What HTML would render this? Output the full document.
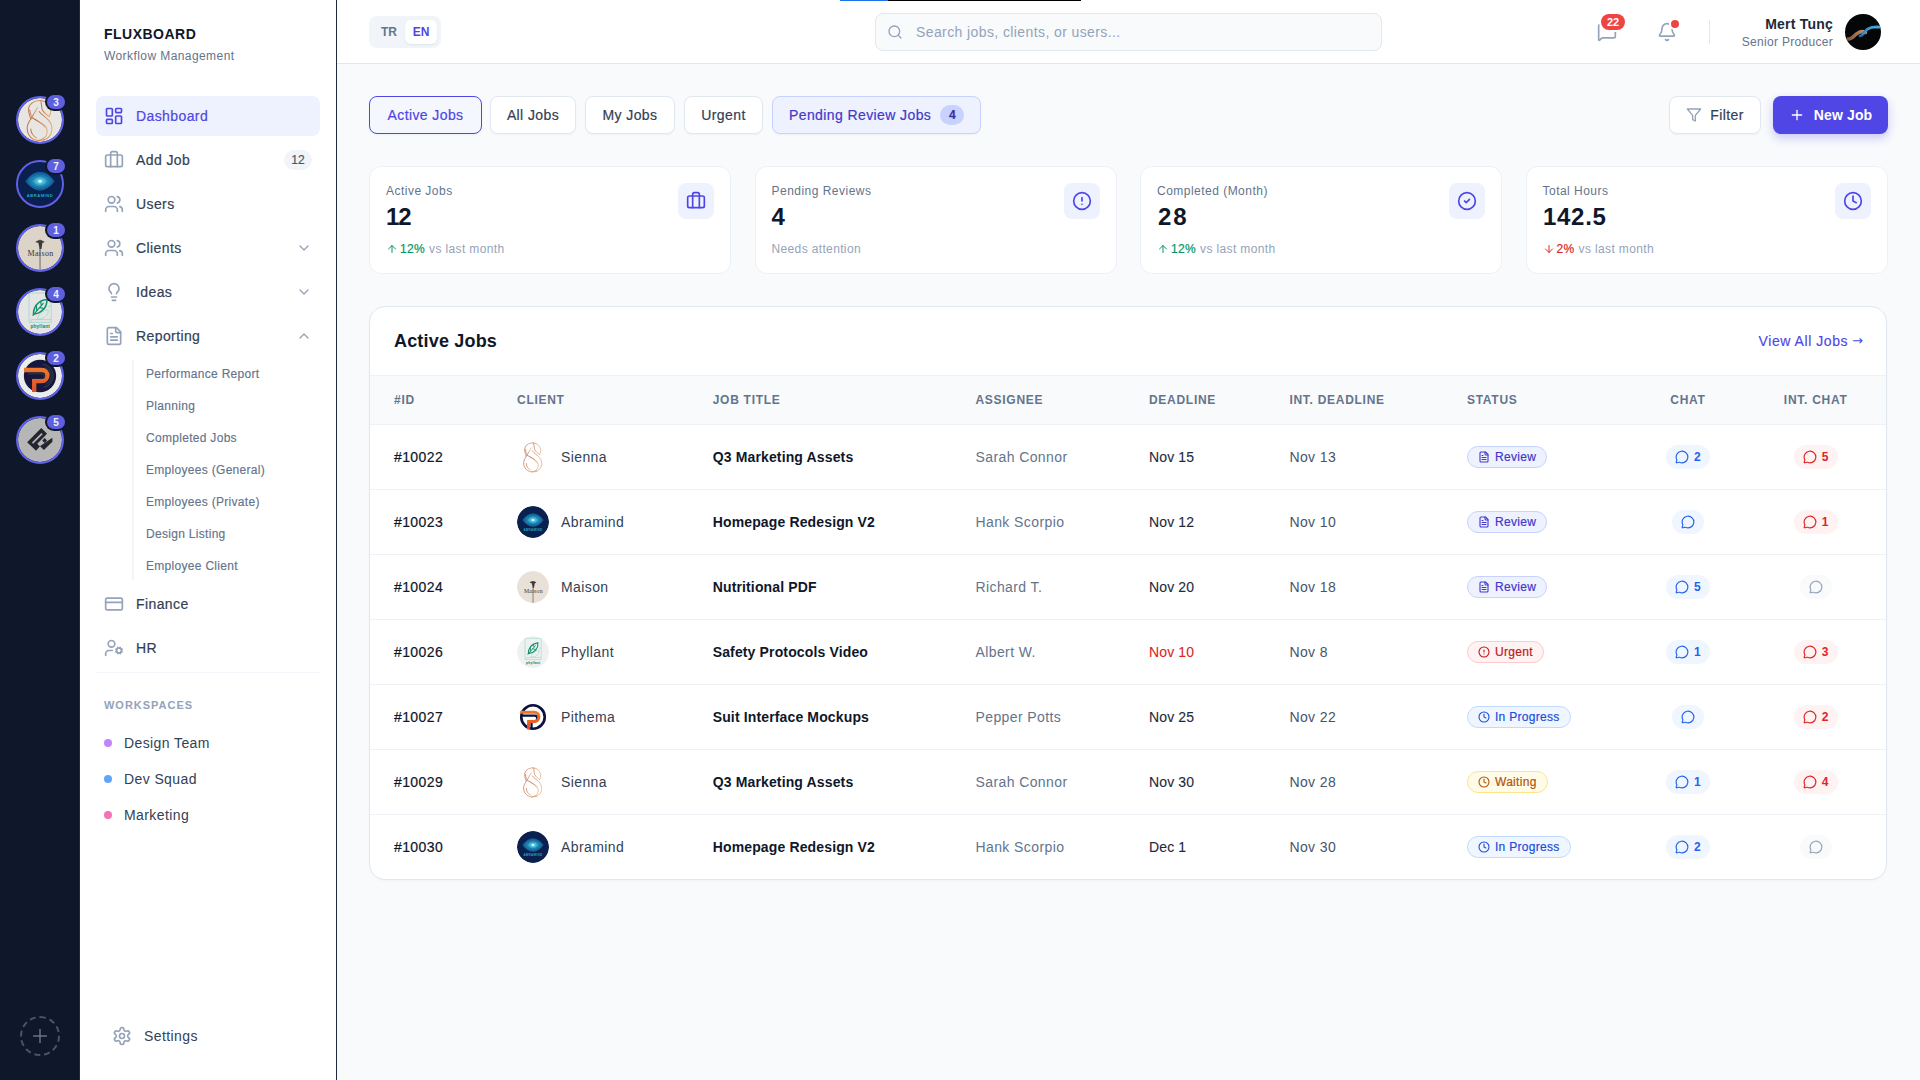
<!DOCTYPE html>
<html><head><meta charset="utf-8"><title>Fluxboard</title>
<style>
*{box-sizing:border-box;margin:0;padding:0}
.md,.nav,.tab,.pill{-webkit-text-stroke:0.2px currentColor}
html,body{width:1920px;height:1080px;overflow:hidden;background:#f8fafc;font-family:"Liberation Sans",Arial,sans-serif;color:#334155;letter-spacing:0.025em}
.abs{position:absolute}
svg{display:block}
#rail{position:absolute;left:0;top:0;width:80px;height:1080px;background:#0f172a;border-right:1px solid #1e293b}
.cav{position:absolute;left:16px;width:48px;height:48px;border-radius:50%;}
.cav .ring{position:absolute;left:0;top:0;width:48px;height:48px;border-radius:50%;border:2px solid #5f62e8;}
.cav .b{position:absolute;left:31px;top:-1px;min-width:18px;height:14px;padding:0 4px;border-radius:7px;background:#5d5fe0;color:#f1f1f6;font-size:10px;font-weight:700;line-height:16px;text-align:center;box-shadow:0 0 0 2px #0f172a;letter-spacing:0}
#side{position:absolute;left:80px;top:0;width:257px;height:1080px;background:#fff;border-right:1px solid #1e293b}
.nav{position:absolute;left:16px;width:224px;height:40px;border-radius:8px;display:flex;align-items:center;padding-left:8px;color:#334155;font-size:14px}
.nav svg{margin-right:12px;color:#94a3b8;flex:none}
.nav.act{background:#eef2ff;color:#4f46e5}
.nav.act svg{color:#4f46e5}
.nav .chev{position:absolute;left:200px;top:12px;color:#94a3b8}
.sub{position:absolute;left:66px;font-size:12px;color:#64748b;height:20px;line-height:20px;letter-spacing:0.025em;-webkit-text-stroke:0.15px currentColor}
.ws{position:absolute;left:24px;display:flex;align-items:center;font-size:14px;color:#334155;height:20px}
.ws i{display:block;width:8px;height:8px;border-radius:50%;margin-right:12px}
#hdr{position:absolute;left:337px;top:0;width:1583px;height:64px;background:#fff;border-bottom:1px solid #e2e8f0}
.tab{position:absolute;top:96px;height:38px;border:1px solid #e2e8f0;border-radius:8px;background:#fff;font-size:14px;color:#334155;display:flex;align-items:center;justify-content:center;box-shadow:0 1px 2px rgba(15,23,42,0.04)}
.card{position:absolute;top:166px;width:362px;height:108px;background:#fff;border:1px solid #edf1f7;border-radius:12px}
.card .lb{position:absolute;left:16px;top:14px;font-size:12px;color:#64748b;line-height:20px;letter-spacing:0.04em}
.card .val{position:absolute;left:16px;top:34px;font-size:24px;font-weight:700;color:#0f172a;line-height:32px;letter-spacing:0}
.card .tr{position:absolute;left:16px;top:72px;font-size:12px;line-height:20px;display:flex;align-items:center;color:#94a3b8;letter-spacing:0.03em}
.card .ib{position:absolute;right:16px;top:16px;width:36px;height:36px;border-radius:8px;background:#eef2ff;display:flex;align-items:center;justify-content:center;color:#4f46e5}
#tbl{position:absolute;left:369px;top:306px;width:1518px;height:574px;background:#fff;border:1px solid #e2e8f0;border-radius:16px;overflow:hidden;box-shadow:0 1px 2px rgba(15,23,42,0.03)}
.row{position:absolute;left:0;width:1516px;height:65px;border-top:1px solid #eef2f6;display:grid;grid-template-columns:123px 195.7px 262.8px 173.5px 140.4px 177.6px 187.6px 114.8px 140.6px;align-items:center}
.row>div{padding-left:24px;white-space:nowrap;font-size:14px}
.row>div.c{padding-left:0;display:flex;justify-content:center}
.th{background:#f8fafc;height:49px;border-top:1px solid #eef2f6}
.th>div{font-size:12px;font-weight:700;color:#64748b;letter-spacing:0.06em}
.cl{display:flex;align-items:center}
.cl svg{margin-right:12px;border-radius:50%}
.pill{display:inline-flex;align-items:center;height:22px;border-radius:11px;padding:0 10px 0 10px;font-size:12px;border:1px solid;letter-spacing:0.025em}
.pill svg{margin-right:5px}
.cp{display:inline-flex;align-items:center;height:24px;border-radius:12px;padding:0 9px;font-size:12px;font-weight:700;letter-spacing:0}
.cp svg{flex:none}
.cp span{margin-left:5px}
</style></head><body>

<div id="rail">
<div class="cav" style="top:96px;background:#0f172a"><div style="position:absolute;left:2px;top:2px"><svg width="44" height="44" viewBox="0 0 48 48"><defs><linearGradient id="sgsienna44" x1="0" x2="1" y1="0" y2="0"><stop offset="0" stop-color="#c06e4e"/><stop offset="1" stop-color="#e0b07c"/></linearGradient></defs>
<circle cx="24" cy="24" r="24" fill="#e8e6e3"/>
<g fill="none" stroke="url(#sgsienna44)" stroke-width="1.1" stroke-linecap="round" stroke-linejoin="round">
<path d="M24 2.8C17 2.6 11.5 7 11.5 12.8C11.5 17 13 20 14 22.8C12 26 10 29 10 32.8C10 36.5 10.8 38.5 12 40.3C14 43.8 18 46 22 46.4C25 46.7 27 46.2 29 45.3"/>
<path d="M12.8 13C13 17 14.5 19.5 16 21.8"/>
<path d="M24 2.8C29 3 34 6 35.5 12.8C36 16 35 19 34 20.3"/>
<path d="M25 4.3C26 8 25.8 11 26.5 12.8C28 16 31 18 34 20.3"/>
<path d="M16 21.8C21 25 27 27 30 31C33 35 32 40 29.5 42.8C27 45 24 46.4 22 46.4"/>
<path d="M23 14.8C26 19 31 21 34 25C37 29 38 34 36 39C34 43 31 45 28 46"/>
<path d="M21.5 10.3C19 14 17 18 14 22.8"/>
<path d="M14 33.8C14 38 16 41 20.5 43.8"/>
<path d="M19 23.5C23 26.5 27.5 28.5 29.5 32"/>
</g></svg></div><div class="ring"></div><div class="b">3</div></div>
<div class="cav" style="top:160px;background:#0f172a"><div style="position:absolute;left:2px;top:2px"><svg width="44" height="44" viewBox="0 0 48 48"><defs><radialGradient id="agabramind44" cx="50%" cy="50%" r="50%">
<stop offset="0" stop-color="#d8ffff"/><stop offset="0.18" stop-color="#5fd6ea"/><stop offset="0.5" stop-color="#2394c2"/><stop offset="0.85" stop-color="#176aa6"/><stop offset="1" stop-color="#12548f"/></radialGradient></defs>
<circle cx="24" cy="24" r="24" fill="#0a2150"/>
<path d="M8 21Q24 0.5 40 21Q24 41.5 8 21Z" fill="url(#agabramind44)" opacity="0.95"/>
<path d="M10.5 21Q24 4.5 37.5 21Q24 37.5 10.5 21Z" fill="none" stroke="#0a2150" stroke-width="0.5" stroke-dasharray="0.8 0.8" opacity="0.8"/>
<path d="M14 21Q24 9 34 21Q24 33 14 21Z" fill="none" stroke="#0a2150" stroke-width="0.45" stroke-dasharray="0.7 0.9" opacity="0.7"/>
<circle cx="24" cy="21" r="1.6" fill="#f0ffff" opacity="0.85"/>
<text x="24" y="37.8" text-anchor="middle" font-family="Liberation Sans" font-weight="700" font-size="4.4" fill="#2fb6c8" letter-spacing="0.6" opacity="0.9">ABRAMIND</text></svg></div><div class="ring"></div><div class="b">7</div></div>
<div class="cav" style="top:224px;background:#0f172a"><div style="position:absolute;left:2px;top:2px"><svg width="44" height="44" viewBox="0 0 48 48"><circle cx="24" cy="24" r="24" fill="#ddd4c9"/>
<rect x="23.3" y="24" width="1.5" height="24" fill="#8a8580"/>
<path d="M19 17.8C19.5 15.3 28.5 15.3 29 17.8L26.6 18.3L25.6 25H23.6L22.2 18.3Z" fill="#3c3a38"/>
<ellipse cx="24" cy="15.8" rx="2.4" ry="0.9" fill="#55524f"/>
<text x="24.6" y="32.4" text-anchor="middle" font-family="Liberation Serif" font-size="9.4" fill="#3a3633" textLength="28.4" lengthAdjust="spacingAndGlyphs">Maison</text></svg></div><div class="ring"></div><div class="b">1</div></div>
<div class="cav" style="top:288px;background:#0f172a"><div style="position:absolute;left:2px;top:2px"><svg width="44" height="44" viewBox="0 0 48 48"><circle cx="24" cy="24" r="24" fill="#e4e5e4"/>
<g fill="none" stroke="#a6dccb" stroke-width="1">
<rect x="12" y="3.3" width="24.2" height="32"/>
<path d="M14.3 35.3V32.2H36"/><path d="M32.6 18.2H36"/>
<path d="M21 32C22.5 26 27 22 33 21.5C33.5 27.5 29 31.5 21 32Z"/></g>
<path d="M17 26.5C16.5 19 22 11 31.5 10.3C32 18.5 26 25.5 17 26.5Z" fill="none" stroke="#13906d" stroke-width="1.7" stroke-linejoin="round"/>
<path d="M16.3 27.6L27.5 14.5M20.5 22.5L20 16.5M23.5 19L28.5 20.5M25.5 16.5L24.5 12.5" stroke="#13906d" stroke-width="1.3" stroke-linecap="round"/>
<text x="24.3" y="41.6" text-anchor="middle" font-family="Liberation Sans" font-weight="700" font-size="6.6" fill="#11805f" textLength="21.5" lengthAdjust="spacingAndGlyphs">phyllant</text></svg></div><div class="ring"></div><div class="b">4</div></div>
<div class="cav" style="top:352px;background:#0f172a"><div style="position:absolute;left:2px;top:2px"><svg width="44" height="44" viewBox="0 0 48 48"><defs><linearGradient id="pgpithema44" x1="0" x2="0" y1="0" y2="1"><stop offset="0" stop-color="#ea7a2c"/><stop offset="1" stop-color="#e04e2a"/></linearGradient></defs>
<circle cx="24" cy="24" r="24" fill="#ececec"/>
<circle cx="24" cy="24" r="17.6" fill="#17173d"/>
<g fill="none" stroke="#2a3142" stroke-width="1.6"><path d="M27 11.5A12.5 12.5 0 0 1 28 36.3"/><path d="M29 14.8A9.5 9.5 0 0 1 30 33"/></g>
<path d="M11 21.5H26.5A3.2 3.2 0 0 1 26.5 27.5H15.8" fill="none" stroke="#243040" stroke-width="1.6"/>
<path d="M6.6 15H26A8.5 8.5 0 0 1 26 32H20V41.4H15.3V27.4H26A3.75 3.75 0 0 0 26 19.9H6.6Z" fill="url(#pgpithema44)"/></svg></div><div class="ring"></div><div class="b">2</div></div>
<div class="cav" style="top:416px;background:#0f172a"><div style="position:absolute;left:2px;top:2px"><svg width="44" height="44" viewBox="0 0 48 48"><circle cx="24" cy="24" r="24" fill="#b6b6b6"/>
<path d="M10 26.4L25.4 11L31.7 17.3L21 28L23.8 30.8L37.5 21.6V25.9L28.3 35L24 30.7L19.7 35.6Z" fill="#23262f"/>
<path d="M15.2 26.7L25.6 16.3L26.9 17.6L16.5 28Z" fill="#b6b6b6"/>
<path d="M26.4 24.6L29.1 21.9L31.7 24.5L29 27.2Z" fill="#23262f"/>
<path d="M21.6 28.6L25.9 24.3L26.5 24.9L22.2 29.2Z" fill="#b6b6b6"/></svg></div><div class="ring"></div><div class="b">5</div></div>
<div class="abs" style="left:20px;top:1016px;width:40px;height:40px;border-radius:50%;border:2px dashed #475569;display:flex;align-items:center;justify-content:center"><svg width="22" height="22" viewBox="0 0 24 24" fill="none" stroke="#64748b" stroke-width="1.6" stroke-linecap="round" stroke-linejoin="round" ><path d="M5 12h14"/><path d="M12 5v14"/></svg></div>
</div>
<div id="side">
<div class="abs" style="left:24px;top:24px;font-size:14px;font-weight:700;color:#0f172a;letter-spacing:0.035em;line-height:20px">FLUXBOARD</div>
<div class="abs" style="left:24px;top:46px;font-size:12px;color:#64748b;letter-spacing:0.035em;line-height:20px">Workflow Management</div>
<div class="nav act" style="top:96px"><svg width="20" height="20" viewBox="0 0 24 24" fill="none" stroke="currentColor" stroke-width="2" stroke-linecap="round" stroke-linejoin="round" ><rect x="3" y="3" width="7" height="9" rx="1"/><rect x="14" y="3" width="7" height="5" rx="1"/><rect x="14" y="12" width="7" height="9" rx="1"/><rect x="3" y="16" width="7" height="5" rx="1"/></svg><span>Dashboard</span></div>
<div class="nav " style="top:140px"><svg width="20" height="20" viewBox="0 0 24 24" fill="none" stroke="currentColor" stroke-width="2" stroke-linecap="round" stroke-linejoin="round" ><path d="M16 20V4a2 2 0 0 0-2-2h-4a2 2 0 0 0-2 2v16"/><rect x="2" y="6" width="20" height="14" rx="2"/></svg><span>Add Job</span><div class="abs" style="left:188px;top:10px;width:28px;height:20px;border-radius:10px;background:#f1f5f9;font-size:12px;line-height:20px;text-align:center;color:#475569;letter-spacing:0">12</div></div>
<div class="nav " style="top:184px"><svg width="20" height="20" viewBox="0 0 24 24" fill="none" stroke="currentColor" stroke-width="2" stroke-linecap="round" stroke-linejoin="round" ><path d="M16 21v-2a4 4 0 0 0-4-4H6a4 4 0 0 0-4 4v2"/><circle cx="9" cy="7" r="4"/><path d="M22 21v-2a4 4 0 0 0-3-3.87"/><path d="M16 3.13a4 4 0 0 1 0 7.75"/></svg><span>Users</span></div>
<div class="nav " style="top:228px"><svg width="20" height="20" viewBox="0 0 24 24" fill="none" stroke="currentColor" stroke-width="2" stroke-linecap="round" stroke-linejoin="round" ><path d="M16 21v-2a4 4 0 0 0-4-4H6a4 4 0 0 0-4 4v2"/><circle cx="9" cy="7" r="4"/><path d="M22 21v-2a4 4 0 0 0-3-3.87"/><path d="M16 3.13a4 4 0 0 1 0 7.75"/></svg><span>Clients</span><div class="chev"><svg width="16" height="16" viewBox="0 0 24 24" fill="none" stroke="currentColor" stroke-width="2" stroke-linecap="round" stroke-linejoin="round" ><path d="m6 9 6 6 6-6"/></svg></div></div>
<div class="nav " style="top:272px"><svg width="20" height="20" viewBox="0 0 24 24" fill="none" stroke="currentColor" stroke-width="2" stroke-linecap="round" stroke-linejoin="round" ><path d="M15 14c.2-1 .7-1.7 1.5-2.5 1-.9 1.5-2.2 1.5-3.5A6 6 0 0 0 6 8c0 1 .2 2.2 1.5 3.5.7.7 1.3 1.5 1.5 2.5"/><path d="M9 18h6"/><path d="M10 22h4"/></svg><span>Ideas</span><div class="chev"><svg width="16" height="16" viewBox="0 0 24 24" fill="none" stroke="currentColor" stroke-width="2" stroke-linecap="round" stroke-linejoin="round" ><path d="m6 9 6 6 6-6"/></svg></div></div>
<div class="nav " style="top:316px"><svg width="20" height="20" viewBox="0 0 24 24" fill="none" stroke="currentColor" stroke-width="2" stroke-linecap="round" stroke-linejoin="round" ><path d="M15 2H6a2 2 0 0 0-2 2v16a2 2 0 0 0 2 2h12a2 2 0 0 0 2-2V7Z"/><path d="M14 2v4a2 2 0 0 0 2 2h4"/><path d="M10 9H8"/><path d="M16 13H8"/><path d="M16 17H8"/></svg><span>Reporting</span><div class="chev"><svg width="16" height="16" viewBox="0 0 24 24" fill="none" stroke="currentColor" stroke-width="2" stroke-linecap="round" stroke-linejoin="round" ><path d="m18 15-6-6-6 6"/></svg></div></div>
<div class="nav " style="top:584px"><svg width="20" height="20" viewBox="0 0 24 24" fill="none" stroke="currentColor" stroke-width="2" stroke-linecap="round" stroke-linejoin="round" ><rect x="2" y="5" width="20" height="14" rx="2"/><line x1="2" x2="22" y1="10" y2="10"/></svg><span>Finance</span></div>
<div class="nav " style="top:628px"><svg width="20" height="20" viewBox="0 0 24 24" fill="none" stroke="currentColor" stroke-width="2" stroke-linecap="round" stroke-linejoin="round" ><circle cx="18" cy="15" r="3"/><circle cx="9" cy="7" r="4"/><path d="M10 15H6a4 4 0 0 0-4 4v2"/><path d="m21.7 16.4-.9-.3"/><path d="m15.2 13.9-.9-.3"/><path d="m16.6 18.7.3-.9"/><path d="m19.1 12.2.3-.9"/><path d="m19.6 18.7-.4-1"/><path d="m16.8 12.3-.4-1"/><path d="m14.3 16.6 1-.4"/><path d="m20.7 13.8 1-.4"/></svg><span>HR</span></div>
<div class="abs" style="left:52px;top:360px;width:2px;height:220px;background:#f1f5f9"></div>
<div class="sub" style="top:364px">Performance Report</div>
<div class="sub" style="top:396px">Planning</div>
<div class="sub" style="top:428px">Completed Jobs</div>
<div class="sub" style="top:460px">Employees (General)</div>
<div class="sub" style="top:492px">Employees (Private)</div>
<div class="sub" style="top:524px">Design Listing</div>
<div class="sub" style="top:556px">Employee Client</div>
<div class="abs" style="left:16px;top:672px;width:224px;height:1px;background:#f1f5f9"></div>
<div class="abs" style="left:24px;top:695px;font-size:11px;font-weight:700;color:#94a3b8;letter-spacing:0.09em;line-height:20px">WORKSPACES</div>
<div class="ws" style="top:733px"><i style="background:#c084fc"></i>Design Team</div>
<div class="ws" style="top:769px"><i style="background:#60a5fa"></i>Dev Squad</div>
<div class="ws" style="top:805px"><i style="background:#f472b6"></i>Marketing</div>
<div class="abs" style="left:32px;top:1026px;display:flex;align-items:center;height:20px;font-size:14px;color:#334155;letter-spacing:0.03em"><svg width="20" height="20" viewBox="0 0 24 24" fill="none" stroke="#94a3b8" stroke-width="2" stroke-linecap="round" stroke-linejoin="round" style="margin-right:12px"><path d="M12.22 2h-.44a2 2 0 0 0-2 2v.18a2 2 0 0 1-1 1.73l-.43.25a2 2 0 0 1-2 0l-.15-.08a2 2 0 0 0-2.73.73l-.22.38a2 2 0 0 0 .73 2.73l.15.1a2 2 0 0 1 1 1.72v.51a2 2 0 0 1-1 1.74l-.15.09a2 2 0 0 0-.73 2.73l.22.38a2 2 0 0 0 2.73.73l.15-.08a2 2 0 0 1 2 0l.43.25a2 2 0 0 1 1 1.73V20a2 2 0 0 0 2 2h.44a2 2 0 0 0 2-2v-.18a2 2 0 0 1 1-1.73l.43-.25a2 2 0 0 1 2 0l.15.08a2 2 0 0 0 2.73-.73l.22-.39a2 2 0 0 0-.73-2.73l-.15-.08a2 2 0 0 1-1-1.74v-.5a2 2 0 0 1 1-1.74l.15-.09a2 2 0 0 0 .73-2.73l-.22-.38a2 2 0 0 0-2.73-.73l-.15.08a2 2 0 0 1-2 0l-.43-.25a2 2 0 0 1-1-1.73V4a2 2 0 0 0-2-2z"/><circle cx="12" cy="12" r="3"/></svg>Settings</div>
</div>
<div id="hdr">
<div class="abs" style="left:32px;top:16px;width:72px;height:32px;border-radius:8px;background:#f1f5f9"></div>
<div class="abs" style="left:36px;top:20px;width:32px;height:24px;font-size:12px;font-weight:700;color:#64748b;line-height:24px;text-align:center;letter-spacing:0">TR</div>
<div class="abs" style="left:68px;top:20px;width:32px;height:24px;border-radius:6px;background:#fff;box-shadow:0 1px 2px rgba(15,23,42,0.08);font-size:12px;font-weight:700;color:#4f46e5;line-height:24px;text-align:center;letter-spacing:0">EN</div>
<div class="abs" style="left:538px;top:13px;width:507px;height:38px;border-radius:8px;background:#f8fafc;border:1px solid #e2e8f0"></div>
<div class="abs" style="left:550px;top:24px"><svg width="16" height="16" viewBox="0 0 24 24" fill="none" stroke="#94a3b8" stroke-width="2" stroke-linecap="round" stroke-linejoin="round" ><circle cx="11" cy="11" r="8"/><path d="m21 21-4.3-4.3"/></svg></div>
<div class="abs" style="left:579px;top:22px;font-size:14px;line-height:20px;color:#94a3b8">Search jobs, clients, or users...</div>
<div class="abs" style="left:1260px;top:22px"><svg width="20" height="20" viewBox="0 0 24 24" fill="none" stroke="#94a3b8" stroke-width="2" stroke-linecap="round" stroke-linejoin="round" ><path d="M22 17a2 2 0 0 1-2 2H6.828a2 2 0 0 0-1.414.586l-2.202 2.202A.71.71 0 0 1 2 21.286V5a2 2 0 0 1 2-2h16a2 2 0 0 1 2 2z"/></svg></div>
<div class="abs" style="left:1264px;top:14px;width:24px;height:16px;border-radius:8px;background:#ef4444;color:#fff;font-size:11px;font-weight:700;line-height:17px;text-align:center;letter-spacing:0;box-shadow:0 0 0 2px #fff">22</div>
<div class="abs" style="left:1320px;top:22px"><svg width="20" height="20" viewBox="0 0 24 24" fill="none" stroke="#94a3b8" stroke-width="2" stroke-linecap="round" stroke-linejoin="round" ><path d="M10.268 21a2 2 0 0 0 3.464 0"/><path d="M3.262 15.326A1 1 0 0 0 4 17h16a1 1 0 0 0 .74-1.673C19.41 13.956 18 12.499 18 8A6 6 0 0 0 6 8c0 4.499-1.411 5.956-2.738 7.326"/></svg></div>
<div class="abs" style="left:1334px;top:20px;width:8px;height:8px;border-radius:50%;background:#ef4444;box-shadow:0 0 0 2px #fff"></div>
<div class="abs" style="left:1372px;top:20px;width:1px;height:24px;background:#e2e8f0"></div>
<div class="abs" style="left:1380px;top:15px;width:116px;text-align:right;font-size:14px;font-weight:700;color:#1e293b;line-height:18px;letter-spacing:0.015em">Mert Tunç</div>
<div class="abs" style="left:1380px;top:34px;width:116px;text-align:right;font-size:12px;color:#64748b;line-height:16px;letter-spacing:0.025em">Senior Producer</div>
<div class="abs" style="left:1508px;top:14px;width:36px;height:36px;border-radius:50%;overflow:hidden;background:#050608">
<svg width="36" height="36" viewBox="0 0 36 36"><defs><linearGradient id="sw1" x1="0" x2="1"><stop offset="0" stop-color="#8a5a3a"/><stop offset="1" stop-color="#d49a6a"/></linearGradient>
<linearGradient id="sw2" x1="0" x2="1"><stop offset="0" stop-color="#1d6fb8"/><stop offset="1" stop-color="#3fb8e8"/></linearGradient></defs>
<path d="M3 25C7 25.5 9 21.5 12 19.5C15 17.3 18 17 20.5 18.5" fill="none" stroke="url(#sw1)" stroke-width="3.4" stroke-linecap="round" opacity="0.95"/>
<path d="M15 21.8C18.5 21.5 20 16.5 23 14.8C26 13.2 30 12.6 35 13.2" fill="none" stroke="url(#sw2)" stroke-width="2.8" stroke-linecap="round" opacity="0.95"/>
<path d="M17 20.5C20 19 22 15.5 25 14.2C28 13 31 13.5 33 14.5" fill="none" stroke="#8fe0ff" stroke-width="0.6" opacity="0.6"/></svg></div>
</div>
<div class="abs" style="left:840px;top:0;width:48px;height:1px;background:#1a73e8"></div>
<div class="abs" style="left:888px;top:0;width:193px;height:1px;background:#000"></div>
<div class="tab" style="left:369px;width:113px;border-color:#4f46e5;background:#f5f7ff;color:#4f46e5">Active Jobs</div>
<div class="tab" style="left:490px;width:86px">All Jobs</div>
<div class="tab" style="left:585px;width:90px">My Jobs</div>
<div class="tab" style="left:684px;width:79px">Urgent</div>
<div class="tab" style="left:772px;width:209px;border-color:#c7d2fe;background:#eef2ff;color:#4338ca;justify-content:flex-start;padding-left:16px">Pending Review Jobs<span style="margin-left:9px;width:24px;height:20px;border-radius:10px;background:#c7d2fe;color:#3730a3;font-size:12px;font-weight:700;line-height:20px;text-align:center;letter-spacing:0">4</span></div>
<div class="tab" style="left:1669px;width:92px;color:#334155"><svg width="16" height="16" viewBox="0 0 24 24" fill="none" stroke="#94a3b8" stroke-width="2" stroke-linecap="round" stroke-linejoin="round" style="margin-right:8px"><polygon points="22 3 2 3 10 12.46 10 19 14 21 14 12.46 22 3"/></svg>Filter</div>
<div class="tab" style="left:1773px;width:115px;border:none;background:#4f46e5;color:#fff;font-weight:700;letter-spacing:0.01em;-webkit-text-stroke:0;box-shadow:0 4px 10px rgba(79,70,229,0.28)"><svg width="16" height="16" viewBox="0 0 24 24" fill="none" stroke="#fff" stroke-width="2" stroke-linecap="round" stroke-linejoin="round" style="margin-right:9px"><path d="M5 12h14"/><path d="M12 5v14"/></svg>New Job</div>
<div class="card" style="left:369.0px"><div class="lb">Active Jobs</div><div class="val" style="letter-spacing:-1px;margin-left:0">12</div><div class="tr"><svg width="12" height="12" viewBox="0 0 24 24" fill="none" stroke="#059669" stroke-width="2" stroke-linecap="round" stroke-linejoin="round" style="margin-right:2px"><path d="m5 12 7-7 7 7"/><path d="M12 19V5"/></svg><span class="md" style="color:#059669;margin-right:4px">12%</span>vs last month</div><div class="ib"><svg width="20" height="20" viewBox="0 0 24 24" fill="none" stroke="#4f46e5" stroke-width="2" stroke-linecap="round" stroke-linejoin="round" ><path d="M16 20V4a2 2 0 0 0-2-2h-4a2 2 0 0 0-2 2v16"/><rect x="2" y="6" width="20" height="14" rx="2"/></svg></div></div>
<div class="card" style="left:754.5px"><div class="lb">Pending Reviews</div><div class="val" style="letter-spacing:0;margin-left:0">4</div><div class="tr">Needs attention</div><div class="ib"><svg width="20" height="20" viewBox="0 0 24 24" fill="none" stroke="#4f46e5" stroke-width="2" stroke-linecap="round" stroke-linejoin="round" ><circle cx="12" cy="12" r="10"/><line x1="12" x2="12" y1="8" y2="12"/><line x1="12" x2="12.01" y1="16" y2="16"/></svg></div></div>
<div class="card" style="left:1140.0px"><div class="lb">Completed (Month)</div><div class="val" style="letter-spacing:1.8px;margin-left:1px">28</div><div class="tr"><svg width="12" height="12" viewBox="0 0 24 24" fill="none" stroke="#059669" stroke-width="2" stroke-linecap="round" stroke-linejoin="round" style="margin-right:2px"><path d="m5 12 7-7 7 7"/><path d="M12 19V5"/></svg><span class="md" style="color:#059669;margin-right:4px">12%</span>vs last month</div><div class="ib"><svg width="20" height="20" viewBox="0 0 24 24" fill="none" stroke="#4f46e5" stroke-width="2" stroke-linecap="round" stroke-linejoin="round" ><circle cx="12" cy="12" r="10"/><path d="m9 12 2 2 4-4"/></svg></div></div>
<div class="card" style="left:1525.5px"><div class="lb">Total Hours</div><div class="val" style="letter-spacing:0.7px;margin-left:0.5px">142.5</div><div class="tr"><svg width="12" height="12" viewBox="0 0 24 24" fill="none" stroke="#dc2626" stroke-width="2" stroke-linecap="round" stroke-linejoin="round" style="margin-right:2px"><path d="M12 5v14"/><path d="m19 12-7 7-7-7"/></svg><span class="md" style="color:#dc2626;margin-right:4px">2%</span>vs last month</div><div class="ib"><svg width="20" height="20" viewBox="0 0 24 24" fill="none" stroke="#4f46e5" stroke-width="2" stroke-linecap="round" stroke-linejoin="round" ><circle cx="12" cy="12" r="10"/><polyline points="12 6 12 12 16 14"/></svg></div></div>
<div id="tbl">
<div class="abs" style="left:24px;top:20px;font-size:18px;font-weight:700;color:#0f172a;line-height:28px;letter-spacing:0.01em">Active Jobs</div>
<div class="abs" style="right:23px;top:24px;font-size:14px;color:#4f46e5;line-height:20px;display:flex;align-items:center;letter-spacing:0.04em;-webkit-text-stroke:0.15px currentColor">View All Jobs<span style="font-family:'DejaVu Sans',sans-serif;font-size:13px;margin-left:4px;letter-spacing:0;-webkit-text-stroke:0">→</span></div>
<div class="row th" style="top:68px"><div class="">#ID</div><div class="">CLIENT</div><div class="">JOB TITLE</div><div class="">ASSIGNEE</div><div class="">DEADLINE</div><div class="">INT. DEADLINE</div><div class="">STATUS</div><div class="c">CHAT</div><div class="c">INT. CHAT</div></div>
<div class="row" style="top:117px"><div class="md" style="color:#0f172a">#10022</div><div class="cl"><svg width="32" height="32" viewBox="0 0 48 48"><defs><linearGradient id="sgsienna32" x1="0" x2="1" y1="0" y2="0"><stop offset="0" stop-color="#c06e4e"/><stop offset="1" stop-color="#e0b07c"/></linearGradient></defs>
<circle cx="24" cy="24" r="24" fill="#ffffff"/>
<g fill="none" stroke="url(#sgsienna32)" stroke-width="1.1" stroke-linecap="round" stroke-linejoin="round">
<path d="M24 2.8C17 2.6 11.5 7 11.5 12.8C11.5 17 13 20 14 22.8C12 26 10 29 10 32.8C10 36.5 10.8 38.5 12 40.3C14 43.8 18 46 22 46.4C25 46.7 27 46.2 29 45.3"/>
<path d="M12.8 13C13 17 14.5 19.5 16 21.8"/>
<path d="M24 2.8C29 3 34 6 35.5 12.8C36 16 35 19 34 20.3"/>
<path d="M25 4.3C26 8 25.8 11 26.5 12.8C28 16 31 18 34 20.3"/>
<path d="M16 21.8C21 25 27 27 30 31C33 35 32 40 29.5 42.8C27 45 24 46.4 22 46.4"/>
<path d="M23 14.8C26 19 31 21 34 25C37 29 38 34 36 39C34 43 31 45 28 46"/>
<path d="M21.5 10.3C19 14 17 18 14 22.8"/>
<path d="M14 33.8C14 38 16 41 20.5 43.8"/>
<path d="M19 23.5C23 26.5 27.5 28.5 29.5 32"/>
</g></svg><span style="color:#334155">Sienna</span></div><div style="font-weight:700;color:#0f172a;letter-spacing:0.01em">Q3 Marketing Assets</div><div style="color:#64748b">Sarah Connor</div><div style="color:#1e293b;letter-spacing:0.01em;-webkit-text-stroke:0.1px currentColor">Nov 15</div><div style="color:#475569">Nov 13</div><div><span class="pill" style="background:#eef2ff;border-color:#c7d2fe;color:#4338ca"><svg width="12" height="12" viewBox="0 0 24 24" fill="none" stroke="#4338ca" stroke-width="2.2" stroke-linecap="round" stroke-linejoin="round" ><path d="M15 2H6a2 2 0 0 0-2 2v16a2 2 0 0 0 2 2h12a2 2 0 0 0 2-2V7Z"/><path d="M14 2v4a2 2 0 0 0 2 2h4"/><path d="M10 9H8"/><path d="M16 13H8"/><path d="M16 17H8"/></svg>Review</span></div><div class="c"><span class="cp" style="background:#eff6ff;color:#2563eb"><svg width="14" height="14" viewBox="0 0 24 24" fill="none" stroke="#2563eb" stroke-width="2" stroke-linecap="round" stroke-linejoin="round" ><path d="M2.992 16.342a2 2 0 0 1 .094 1.167l-1.065 3.29a1 1 0 0 0 1.236 1.168l3.413-.998a2 2 0 0 1 1.099.092 10 10 0 1 0-4.777-4.719"/></svg><span>2</span></span></div><div class="c"><span class="cp" style="background:#fef2f2;color:#dc2626"><svg width="14" height="14" viewBox="0 0 24 24" fill="none" stroke="#dc2626" stroke-width="2" stroke-linecap="round" stroke-linejoin="round" ><path d="M2.992 16.342a2 2 0 0 1 .094 1.167l-1.065 3.29a1 1 0 0 0 1.236 1.168l3.413-.998a2 2 0 0 1 1.099.092 10 10 0 1 0-4.777-4.719"/></svg><span>5</span></span></div></div>
<div class="row" style="top:182px"><div class="md" style="color:#0f172a">#10023</div><div class="cl"><svg width="32" height="32" viewBox="0 0 48 48"><defs><radialGradient id="agabramind32" cx="50%" cy="50%" r="50%">
<stop offset="0" stop-color="#d8ffff"/><stop offset="0.18" stop-color="#5fd6ea"/><stop offset="0.5" stop-color="#2394c2"/><stop offset="0.85" stop-color="#176aa6"/><stop offset="1" stop-color="#12548f"/></radialGradient></defs>
<circle cx="24" cy="24" r="24" fill="#0a2150"/>
<path d="M8 21Q24 0.5 40 21Q24 41.5 8 21Z" fill="url(#agabramind32)" opacity="0.95"/>
<path d="M10.5 21Q24 4.5 37.5 21Q24 37.5 10.5 21Z" fill="none" stroke="#0a2150" stroke-width="0.5" stroke-dasharray="0.8 0.8" opacity="0.8"/>
<path d="M14 21Q24 9 34 21Q24 33 14 21Z" fill="none" stroke="#0a2150" stroke-width="0.45" stroke-dasharray="0.7 0.9" opacity="0.7"/>
<circle cx="24" cy="21" r="1.6" fill="#f0ffff" opacity="0.85"/>
<text x="24" y="37.8" text-anchor="middle" font-family="Liberation Sans" font-weight="700" font-size="4.4" fill="#2fb6c8" letter-spacing="0.6" opacity="0.9">ABRAMIND</text></svg><span style="color:#334155">Abramind</span></div><div style="font-weight:700;color:#0f172a;letter-spacing:0.01em">Homepage Redesign V2</div><div style="color:#64748b">Hank Scorpio</div><div style="color:#1e293b;letter-spacing:0.01em;-webkit-text-stroke:0.1px currentColor">Nov 12</div><div style="color:#475569">Nov 10</div><div><span class="pill" style="background:#eef2ff;border-color:#c7d2fe;color:#4338ca"><svg width="12" height="12" viewBox="0 0 24 24" fill="none" stroke="#4338ca" stroke-width="2.2" stroke-linecap="round" stroke-linejoin="round" ><path d="M15 2H6a2 2 0 0 0-2 2v16a2 2 0 0 0 2 2h12a2 2 0 0 0 2-2V7Z"/><path d="M14 2v4a2 2 0 0 0 2 2h4"/><path d="M10 9H8"/><path d="M16 13H8"/><path d="M16 17H8"/></svg>Review</span></div><div class="c"><span class="cp" style="background:#eff6ff;color:#2563eb"><svg width="14" height="14" viewBox="0 0 24 24" fill="none" stroke="#2563eb" stroke-width="2" stroke-linecap="round" stroke-linejoin="round" ><path d="M2.992 16.342a2 2 0 0 1 .094 1.167l-1.065 3.29a1 1 0 0 0 1.236 1.168l3.413-.998a2 2 0 0 1 1.099.092 10 10 0 1 0-4.777-4.719"/></svg></span></div><div class="c"><span class="cp" style="background:#fef2f2;color:#dc2626"><svg width="14" height="14" viewBox="0 0 24 24" fill="none" stroke="#dc2626" stroke-width="2" stroke-linecap="round" stroke-linejoin="round" ><path d="M2.992 16.342a2 2 0 0 1 .094 1.167l-1.065 3.29a1 1 0 0 0 1.236 1.168l3.413-.998a2 2 0 0 1 1.099.092 10 10 0 1 0-4.777-4.719"/></svg><span>1</span></span></div></div>
<div class="row" style="top:247px"><div class="md" style="color:#0f172a">#10024</div><div class="cl"><svg width="32" height="32" viewBox="0 0 48 48"><circle cx="24" cy="24" r="24" fill="#e9e1d8"/>
<rect x="23.3" y="24" width="1.5" height="24" fill="#8a8580"/>
<path d="M19 17.8C19.5 15.3 28.5 15.3 29 17.8L26.6 18.3L25.6 25H23.6L22.2 18.3Z" fill="#3c3a38"/>
<ellipse cx="24" cy="15.8" rx="2.4" ry="0.9" fill="#55524f"/>
<text x="24.6" y="32.4" text-anchor="middle" font-family="Liberation Serif" font-size="9.4" fill="#3a3633" textLength="28.4" lengthAdjust="spacingAndGlyphs">Maison</text></svg><span style="color:#334155">Maison</span></div><div style="font-weight:700;color:#0f172a;letter-spacing:0.01em">Nutritional PDF</div><div style="color:#64748b">Richard T.</div><div style="color:#1e293b;letter-spacing:0.01em;-webkit-text-stroke:0.1px currentColor">Nov 20</div><div style="color:#475569">Nov 18</div><div><span class="pill" style="background:#eef2ff;border-color:#c7d2fe;color:#4338ca"><svg width="12" height="12" viewBox="0 0 24 24" fill="none" stroke="#4338ca" stroke-width="2.2" stroke-linecap="round" stroke-linejoin="round" ><path d="M15 2H6a2 2 0 0 0-2 2v16a2 2 0 0 0 2 2h12a2 2 0 0 0 2-2V7Z"/><path d="M14 2v4a2 2 0 0 0 2 2h4"/><path d="M10 9H8"/><path d="M16 13H8"/><path d="M16 17H8"/></svg>Review</span></div><div class="c"><span class="cp" style="background:#eff6ff;color:#2563eb"><svg width="14" height="14" viewBox="0 0 24 24" fill="none" stroke="#2563eb" stroke-width="2" stroke-linecap="round" stroke-linejoin="round" ><path d="M2.992 16.342a2 2 0 0 1 .094 1.167l-1.065 3.29a1 1 0 0 0 1.236 1.168l3.413-.998a2 2 0 0 1 1.099.092 10 10 0 1 0-4.777-4.719"/></svg><span>5</span></span></div><div class="c"><span class="cp" style="background:#f8fafc;color:#94a3b8"><svg width="14" height="14" viewBox="0 0 24 24" fill="none" stroke="#94a3b8" stroke-width="2" stroke-linecap="round" stroke-linejoin="round" ><path d="M2.992 16.342a2 2 0 0 1 .094 1.167l-1.065 3.29a1 1 0 0 0 1.236 1.168l3.413-.998a2 2 0 0 1 1.099.092 10 10 0 1 0-4.777-4.719"/></svg></span></div></div>
<div class="row" style="top:312px"><div class="md" style="color:#0f172a">#10026</div><div class="cl"><svg width="32" height="32" viewBox="0 0 48 48"><circle cx="24" cy="24" r="24" fill="#eef1f0"/>
<g fill="none" stroke="#a6dccb" stroke-width="1">
<rect x="12" y="3.3" width="24.2" height="32"/>
<path d="M14.3 35.3V32.2H36"/><path d="M32.6 18.2H36"/>
<path d="M21 32C22.5 26 27 22 33 21.5C33.5 27.5 29 31.5 21 32Z"/></g>
<path d="M17 26.5C16.5 19 22 11 31.5 10.3C32 18.5 26 25.5 17 26.5Z" fill="none" stroke="#13906d" stroke-width="1.7" stroke-linejoin="round"/>
<path d="M16.3 27.6L27.5 14.5M20.5 22.5L20 16.5M23.5 19L28.5 20.5M25.5 16.5L24.5 12.5" stroke="#13906d" stroke-width="1.3" stroke-linecap="round"/>
<text x="24.3" y="41.6" text-anchor="middle" font-family="Liberation Sans" font-weight="700" font-size="6.6" fill="#11805f" textLength="21.5" lengthAdjust="spacingAndGlyphs">phyllant</text></svg><span style="color:#334155">Phyllant</span></div><div style="font-weight:700;color:#0f172a;letter-spacing:0.01em">Safety Protocols Video</div><div style="color:#64748b">Albert W.</div><div style="color:#dc2626;letter-spacing:0.01em;-webkit-text-stroke:0.1px currentColor">Nov 10</div><div style="color:#475569">Nov 8</div><div><span class="pill" style="background:#fef2f2;border-color:#fecaca;color:#b91c1c"><svg width="12" height="12" viewBox="0 0 24 24" fill="none" stroke="#b91c1c" stroke-width="2.2" stroke-linecap="round" stroke-linejoin="round" ><circle cx="12" cy="12" r="10"/><line x1="12" x2="12" y1="8" y2="12"/><line x1="12" x2="12.01" y1="16" y2="16"/></svg>Urgent</span></div><div class="c"><span class="cp" style="background:#eff6ff;color:#2563eb"><svg width="14" height="14" viewBox="0 0 24 24" fill="none" stroke="#2563eb" stroke-width="2" stroke-linecap="round" stroke-linejoin="round" ><path d="M2.992 16.342a2 2 0 0 1 .094 1.167l-1.065 3.29a1 1 0 0 0 1.236 1.168l3.413-.998a2 2 0 0 1 1.099.092 10 10 0 1 0-4.777-4.719"/></svg><span>1</span></span></div><div class="c"><span class="cp" style="background:#fef2f2;color:#dc2626"><svg width="14" height="14" viewBox="0 0 24 24" fill="none" stroke="#dc2626" stroke-width="2" stroke-linecap="round" stroke-linejoin="round" ><path d="M2.992 16.342a2 2 0 0 1 .094 1.167l-1.065 3.29a1 1 0 0 0 1.236 1.168l3.413-.998a2 2 0 0 1 1.099.092 10 10 0 1 0-4.777-4.719"/></svg><span>3</span></span></div></div>
<div class="row" style="top:377px"><div class="md" style="color:#0f172a">#10027</div><div class="cl"><svg width="32" height="32" viewBox="0 0 48 48"><defs><linearGradient id="ptpithema_t32" x1="0" x2="0" y1="0" y2="1"><stop offset="0" stop-color="#f07a26"/><stop offset="1" stop-color="#ea4f1f"/></linearGradient></defs>
<circle cx="24" cy="24" r="24" fill="#ffffff"/>
<circle cx="24" cy="24" r="17.6" fill="none" stroke="#0d1140" stroke-width="4"/>
<path d="M5.5 21.8H26A4.3 4.3 0 0 1 26.5 30.5H21.8V42" fill="none" stroke="#0d1140" stroke-width="3.4"/>
<path d="M4.8 14.6H26A9.15 9.15 0 0 1 26 32.9H19.6V42.9H15.1V28.4H26A4.55 4.55 0 0 0 26 19.3H4.8Z" fill="url(#ptpithema_t32)"/></svg><span style="color:#334155">Pithema</span></div><div style="font-weight:700;color:#0f172a;letter-spacing:0.01em">Suit Interface Mockups</div><div style="color:#64748b">Pepper Potts</div><div style="color:#1e293b;letter-spacing:0.01em;-webkit-text-stroke:0.1px currentColor">Nov 25</div><div style="color:#475569">Nov 22</div><div><span class="pill" style="background:#eff6ff;border-color:#bfdbfe;color:#1d4ed8"><svg width="12" height="12" viewBox="0 0 24 24" fill="none" stroke="#1d4ed8" stroke-width="2.2" stroke-linecap="round" stroke-linejoin="round" ><circle cx="12" cy="12" r="10"/><polyline points="12 6 12 12 16 14"/></svg>In Progress</span></div><div class="c"><span class="cp" style="background:#eff6ff;color:#2563eb"><svg width="14" height="14" viewBox="0 0 24 24" fill="none" stroke="#2563eb" stroke-width="2" stroke-linecap="round" stroke-linejoin="round" ><path d="M2.992 16.342a2 2 0 0 1 .094 1.167l-1.065 3.29a1 1 0 0 0 1.236 1.168l3.413-.998a2 2 0 0 1 1.099.092 10 10 0 1 0-4.777-4.719"/></svg></span></div><div class="c"><span class="cp" style="background:#fef2f2;color:#dc2626"><svg width="14" height="14" viewBox="0 0 24 24" fill="none" stroke="#dc2626" stroke-width="2" stroke-linecap="round" stroke-linejoin="round" ><path d="M2.992 16.342a2 2 0 0 1 .094 1.167l-1.065 3.29a1 1 0 0 0 1.236 1.168l3.413-.998a2 2 0 0 1 1.099.092 10 10 0 1 0-4.777-4.719"/></svg><span>2</span></span></div></div>
<div class="row" style="top:442px"><div class="md" style="color:#0f172a">#10029</div><div class="cl"><svg width="32" height="32" viewBox="0 0 48 48"><defs><linearGradient id="sgsienna32" x1="0" x2="1" y1="0" y2="0"><stop offset="0" stop-color="#c06e4e"/><stop offset="1" stop-color="#e0b07c"/></linearGradient></defs>
<circle cx="24" cy="24" r="24" fill="#ffffff"/>
<g fill="none" stroke="url(#sgsienna32)" stroke-width="1.1" stroke-linecap="round" stroke-linejoin="round">
<path d="M24 2.8C17 2.6 11.5 7 11.5 12.8C11.5 17 13 20 14 22.8C12 26 10 29 10 32.8C10 36.5 10.8 38.5 12 40.3C14 43.8 18 46 22 46.4C25 46.7 27 46.2 29 45.3"/>
<path d="M12.8 13C13 17 14.5 19.5 16 21.8"/>
<path d="M24 2.8C29 3 34 6 35.5 12.8C36 16 35 19 34 20.3"/>
<path d="M25 4.3C26 8 25.8 11 26.5 12.8C28 16 31 18 34 20.3"/>
<path d="M16 21.8C21 25 27 27 30 31C33 35 32 40 29.5 42.8C27 45 24 46.4 22 46.4"/>
<path d="M23 14.8C26 19 31 21 34 25C37 29 38 34 36 39C34 43 31 45 28 46"/>
<path d="M21.5 10.3C19 14 17 18 14 22.8"/>
<path d="M14 33.8C14 38 16 41 20.5 43.8"/>
<path d="M19 23.5C23 26.5 27.5 28.5 29.5 32"/>
</g></svg><span style="color:#334155">Sienna</span></div><div style="font-weight:700;color:#0f172a;letter-spacing:0.01em">Q3 Marketing Assets</div><div style="color:#64748b">Sarah Connor</div><div style="color:#1e293b;letter-spacing:0.01em;-webkit-text-stroke:0.1px currentColor">Nov 30</div><div style="color:#475569">Nov 28</div><div><span class="pill" style="background:#fefce8;border-color:#fde68a;color:#b45309"><svg width="12" height="12" viewBox="0 0 24 24" fill="none" stroke="#b45309" stroke-width="2.2" stroke-linecap="round" stroke-linejoin="round" ><circle cx="12" cy="12" r="10"/><polyline points="12 6 12 12 16 14"/></svg>Waiting</span></div><div class="c"><span class="cp" style="background:#eff6ff;color:#2563eb"><svg width="14" height="14" viewBox="0 0 24 24" fill="none" stroke="#2563eb" stroke-width="2" stroke-linecap="round" stroke-linejoin="round" ><path d="M2.992 16.342a2 2 0 0 1 .094 1.167l-1.065 3.29a1 1 0 0 0 1.236 1.168l3.413-.998a2 2 0 0 1 1.099.092 10 10 0 1 0-4.777-4.719"/></svg><span>1</span></span></div><div class="c"><span class="cp" style="background:#fef2f2;color:#dc2626"><svg width="14" height="14" viewBox="0 0 24 24" fill="none" stroke="#dc2626" stroke-width="2" stroke-linecap="round" stroke-linejoin="round" ><path d="M2.992 16.342a2 2 0 0 1 .094 1.167l-1.065 3.29a1 1 0 0 0 1.236 1.168l3.413-.998a2 2 0 0 1 1.099.092 10 10 0 1 0-4.777-4.719"/></svg><span>4</span></span></div></div>
<div class="row" style="top:507px"><div class="md" style="color:#0f172a">#10030</div><div class="cl"><svg width="32" height="32" viewBox="0 0 48 48"><defs><radialGradient id="agabramind32" cx="50%" cy="50%" r="50%">
<stop offset="0" stop-color="#d8ffff"/><stop offset="0.18" stop-color="#5fd6ea"/><stop offset="0.5" stop-color="#2394c2"/><stop offset="0.85" stop-color="#176aa6"/><stop offset="1" stop-color="#12548f"/></radialGradient></defs>
<circle cx="24" cy="24" r="24" fill="#0a2150"/>
<path d="M8 21Q24 0.5 40 21Q24 41.5 8 21Z" fill="url(#agabramind32)" opacity="0.95"/>
<path d="M10.5 21Q24 4.5 37.5 21Q24 37.5 10.5 21Z" fill="none" stroke="#0a2150" stroke-width="0.5" stroke-dasharray="0.8 0.8" opacity="0.8"/>
<path d="M14 21Q24 9 34 21Q24 33 14 21Z" fill="none" stroke="#0a2150" stroke-width="0.45" stroke-dasharray="0.7 0.9" opacity="0.7"/>
<circle cx="24" cy="21" r="1.6" fill="#f0ffff" opacity="0.85"/>
<text x="24" y="37.8" text-anchor="middle" font-family="Liberation Sans" font-weight="700" font-size="4.4" fill="#2fb6c8" letter-spacing="0.6" opacity="0.9">ABRAMIND</text></svg><span style="color:#334155">Abramind</span></div><div style="font-weight:700;color:#0f172a;letter-spacing:0.01em">Homepage Redesign V2</div><div style="color:#64748b">Hank Scorpio</div><div style="color:#1e293b;letter-spacing:0.01em;-webkit-text-stroke:0.1px currentColor">Dec 1</div><div style="color:#475569">Nov 30</div><div><span class="pill" style="background:#eff6ff;border-color:#bfdbfe;color:#1d4ed8"><svg width="12" height="12" viewBox="0 0 24 24" fill="none" stroke="#1d4ed8" stroke-width="2.2" stroke-linecap="round" stroke-linejoin="round" ><circle cx="12" cy="12" r="10"/><polyline points="12 6 12 12 16 14"/></svg>In Progress</span></div><div class="c"><span class="cp" style="background:#eff6ff;color:#2563eb"><svg width="14" height="14" viewBox="0 0 24 24" fill="none" stroke="#2563eb" stroke-width="2" stroke-linecap="round" stroke-linejoin="round" ><path d="M2.992 16.342a2 2 0 0 1 .094 1.167l-1.065 3.29a1 1 0 0 0 1.236 1.168l3.413-.998a2 2 0 0 1 1.099.092 10 10 0 1 0-4.777-4.719"/></svg><span>2</span></span></div><div class="c"><span class="cp" style="background:#f8fafc;color:#94a3b8"><svg width="14" height="14" viewBox="0 0 24 24" fill="none" stroke="#94a3b8" stroke-width="2" stroke-linecap="round" stroke-linejoin="round" ><path d="M2.992 16.342a2 2 0 0 1 .094 1.167l-1.065 3.29a1 1 0 0 0 1.236 1.168l3.413-.998a2 2 0 0 1 1.099.092 10 10 0 1 0-4.777-4.719"/></svg></span></div></div>
</div>
</body></html>
